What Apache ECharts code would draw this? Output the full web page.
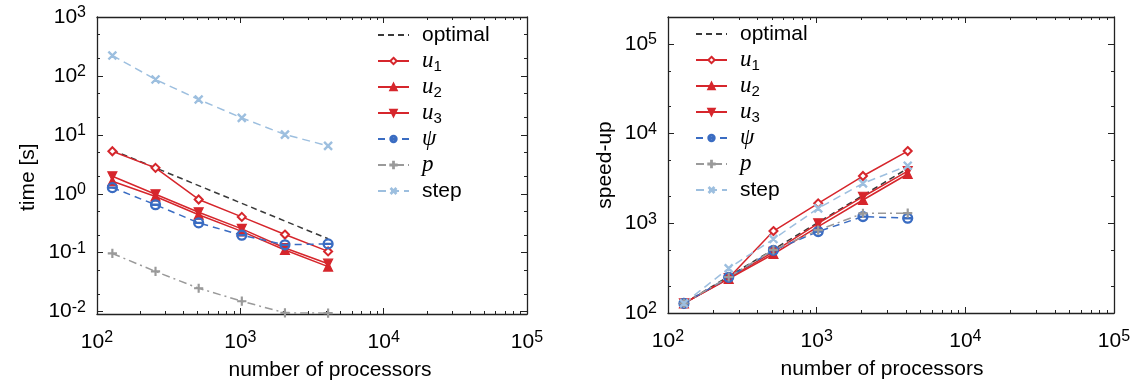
<!DOCTYPE html>
<html>
<head>
<meta charset="utf-8">
<script src="https://cdn.jsdelivr.net/npm/echarts@6/dist/echarts.min.js"></script>
<style>
  html, body { margin: 0; padding: 0; background: #fff; }
  #chart { width: 1137px; height: 390px; }
</style>
</head>
<body>
<div id="chart"></div>
<script>
// number of processors (x for both panels)
const procs = [128, 256, 512, 1024, 2048, 4096]

// left panel: time [s]
const timeOptimal = [5.5, 2.75, 1.375, 0.6875, 0.344, 0.172]
const timeU1 = [5.27, 2.75, 0.8, 0.405, 0.203, 0.105]
const timeU2 = [1.63, 0.9, 0.44, 0.23, 0.111, 0.058]
const timeU3 = [1.98, 0.98, 0.485, 0.253, 0.12, 0.065]
const timePsi = [1.27, 0.65, 0.32, 0.198, 0.136, 0.141]
const timeP = [0.097, 0.048, 0.0249, 0.015, 0.0095, 0.0094]
const timeStep = [222, 87, 39.8, 19.4, 10.1, 6.5]

// right panel: speed-up
const speedOptimal = [128, 256, 512, 1024, 2048, 4096]
const speedU1 = [128, 245, 820, 1670, 3370, 6400]
const speedU2 = [128, 240, 455, 920, 1820, 3550]
const speedU3 = [128, 245, 480, 1000, 1980, 3830]
const speedPsi = [128, 250, 500, 810, 1190, 1140]
const speedP = [128, 252, 505, 840, 1290, 1300]
const speedStep = [128, 315, 668, 1470, 2790, 4390]

// tick values
const xMajor = [100, 1000, 10000, 100000]
const xMinor = [200, 300, 400, 500, 600, 700, 800, 900,
                2000, 3000, 4000, 5000, 6000, 7000, 8000, 9000,
                20000, 30000, 40000, 50000, 60000, 70000, 80000, 90000]
const timeMajor = [0.01, 0.1, 1, 10, 100, 1000]
const timeMinor = [0.02, 0.05, 0.2, 0.5, 2, 5, 20, 50, 200, 500]
const speedMajor = [100, 1000, 10000, 100000]
const speedMinor = [200, 500, 2000, 5000, 20000, 50000]

const seriesNames = ['optimal', 'u1', 'u2', 'u3', 'psi', 'p', 'step']
const legendLabels = {
    optimal: 'optimal',
    u1: '{m|u}{sub|1}',
    u2: '{m|u}{sub|2}',
    u3: '{m|u}{sub|3}',
    psi: '{m|ψ}',
    p: '{m|p}',
    step: 'step'
}

const RED = '#d6262c'
const BLUE = '#3a6cc2'
const GREY = '#9a9a9a'
const LIGHTBLUE = '#9dbfdf'
const FRAME = '#222'
const FONT = 'Liberation Sans'

// open circle with a bar, plus sign
const psiSymbol = 'path://M0,-5A5,5 0 1,1 0,5A5,5 0 1,1 0,-5ZM0,-3.9A3.9,3.9 0 1,0 0,3.9A3.9,3.9 0 1,0 0,-3.9ZM-3.9,-0.55L3.9,-0.55L3.9,0.55L-3.9,0.55Z'
const plusSymbol = 'path://M-0.6,-5L0.6,-5L0.6,5L-0.6,5ZM-5,-0.6L5,-0.6L5,0.6L-5,0.6Z'

const styles = {
    optimal: { color: '#3a3a3a', type: [6, 4], symbol: 'none', size: 0 },
    u1: { color: RED, type: 'solid', symbol: 'emptyDiamond', size: 8 },
    u2: { color: RED, type: 'solid', symbol: 'triangle', size: 9 },
    u3: { color: RED, type: 'solid', symbol: 'triangle', size: 9, rotate: 180 },
    psi: { color: BLUE, type: [7, 5], symbol: psiSymbol, size: 10 },
    p: { color: GREY, type: [8, 4, 2, 4], symbol: plusSymbol, size: 8 },
    step: { color: LIGHTBLUE, type: [8, 5], symbol: plusSymbol, size: 10, rotate: 45 }
}

function supLabel(value) {
    const e = Math.round(Math.log10(value))
    return '{b|10}{s|' + e + '}'
}

const labelRich = {
    b: { fontFamily: FONT, fontSize: 21, lineHeight: 24, color: '#000' },
    s: { fontFamily: FONT, fontSize: 16, lineHeight: 13, verticalAlign: 'top', color: '#000' }
}

// 4 axes per direction: main major, main minor, mirror major, mirror minor
function makeAxes(dim, gi, min, max, majors, minors, name, nameOpts) {
    const pos = dim === 'x' ? ['bottom', 'top'] : ['left', 'right']
    const base = {
        type: 'log',
        logBase: 10,
        gridIndex: gi,
        min: min,
        max: max,
        splitLine: { show: false },
        axisLine: { show: false, onZero: false }
    }
    const tick = (vals, len) => ({
        show: true, inside: true, length: len, customValues: vals,
        lineStyle: { color: FRAME, width: 1 }
    })
    return [
        Object.assign({}, base, {
            position: pos[0],
            axisLine: { show: true, onZero: false, lineStyle: { color: FRAME, width: 1.3 } },
            axisTick: tick(majors, 6),
            axisLabel: {
                show: true,
                customValues: majors,
                formatter: supLabel,
                margin: dim === 'x' ? 16 : 11,
                rich: labelRich
            },
            name: name,
            nameLocation: 'middle',
            nameGap: nameOpts.gap,
            nameTextStyle: {
                fontFamily: FONT, fontSize: 21, color: '#000',
                padding: nameOpts.padding
            }
        }),
        Object.assign({}, base, {
            position: pos[0],
            axisTick: tick(minors, 3),
            axisLabel: { show: false }
        }),
        Object.assign({}, base, {
            position: pos[1],
            axisLine: { show: true, onZero: false, lineStyle: { color: FRAME, width: 1.3 } },
            axisTick: tick(majors, 6),
            axisLabel: { show: false }
        }),
        Object.assign({}, base, {
            position: pos[1],
            axisTick: tick(minors, 3),
            axisLabel: { show: false }
        })
    ]
}

function makeSeries(gi, table) {
    return seriesNames.map(name => {
        const st = styles[name]
        return {
            name: name,
            type: 'line',
            xAxisIndex: gi * 4,
            yAxisIndex: gi * 4,
            data: procs.map((x, i) => [x, table[name][i]]),
            symbol: st.symbol,
            symbolSize: st.size,
            symbolRotate: st.rotate || 0,
            showSymbol: st.symbol !== 'none',
            lineStyle: { color: st.color, width: 1.5, type: st.type },
            itemStyle: { color: st.color, borderColor: st.color, borderWidth: 1.2 },
            emphasis: { disabled: true },
            z: name === 'optimal' ? 1 : 3
        }
    })
}

function makeLegend(left, top) {
    return {
        // the optimal entry is a bare dashed line
        data: seriesNames.map(n => n === 'optimal' ? { name: n, itemStyle: { opacity: 0 } } : n),
        orient: 'vertical',
        left: left,
        top: top,
        padding: 0,
        itemWidth: 31,
        itemHeight: 8,
        itemGap: 0,
        selectedMode: false,
        formatter: name => legendLabels[name],
        textStyle: {
            fontFamily: FONT,
            fontSize: 21,
            lineHeight: 26,
            color: '#000',
            padding: [0, 0, 0, 8],
            rich: {
                m: { fontFamily: 'Liberation Serif', fontStyle: 'italic', fontSize: 23, lineHeight: 26, color: '#000' },
                sub: { fontFamily: FONT, fontSize: 15, lineHeight: 13, verticalAlign: 'bottom', color: '#000' }
            }
        }
    }
}

const timeTable = { optimal: timeOptimal, u1: timeU1, u2: timeU2, u3: timeU3, psi: timePsi, p: timeP, step: timeStep }
const speedTable = { optimal: speedOptimal, u1: speedU1, u2: speedU2, u3: speedU3, psi: speedPsi, p: speedP, step: speedStep }

const chart = echarts.init(document.getElementById('chart'), null, { renderer: 'canvas' })

const option = {
    animation: false,
    backgroundColor: '#fff',
    grid: [
        { left: 97, top: 17, width: 430, height: 297 },
        { left: 668, top: 17, width: 446, height: 296 }
    ],
    xAxis: [
        ...makeAxes('x', 0, 100, 100000, xMajor, xMinor, 'number of processors', { gap: 46, padding: [0, 0, 0, 36] }),
        ...makeAxes('x', 1, 100, 100000, xMajor, xMinor, 'number of processors', { gap: 46, padding: [0, 18, 0, 0] })
    ],
    yAxis: [
        // trailing spaces push the rotated title a little lower, as in the original
        ...makeAxes('y', 0, 0.0091, 1000, timeMajor, timeMinor, 'time [s]\u00a0\u00a0\u00a0\u00a0', { gap: 58, padding: 0 }),
        ...makeAxes('y', 1, 100, 200000, speedMajor, speedMinor, 'speed-up', { gap: 52, padding: 0 })
    ],
    legend: [makeLegend(377, 22), makeLegend(695, 21)],
    series: [...makeSeries(0, timeTable), ...makeSeries(1, speedTable)]
}

chart.setOption(option)
</script>
</body>
</html>
